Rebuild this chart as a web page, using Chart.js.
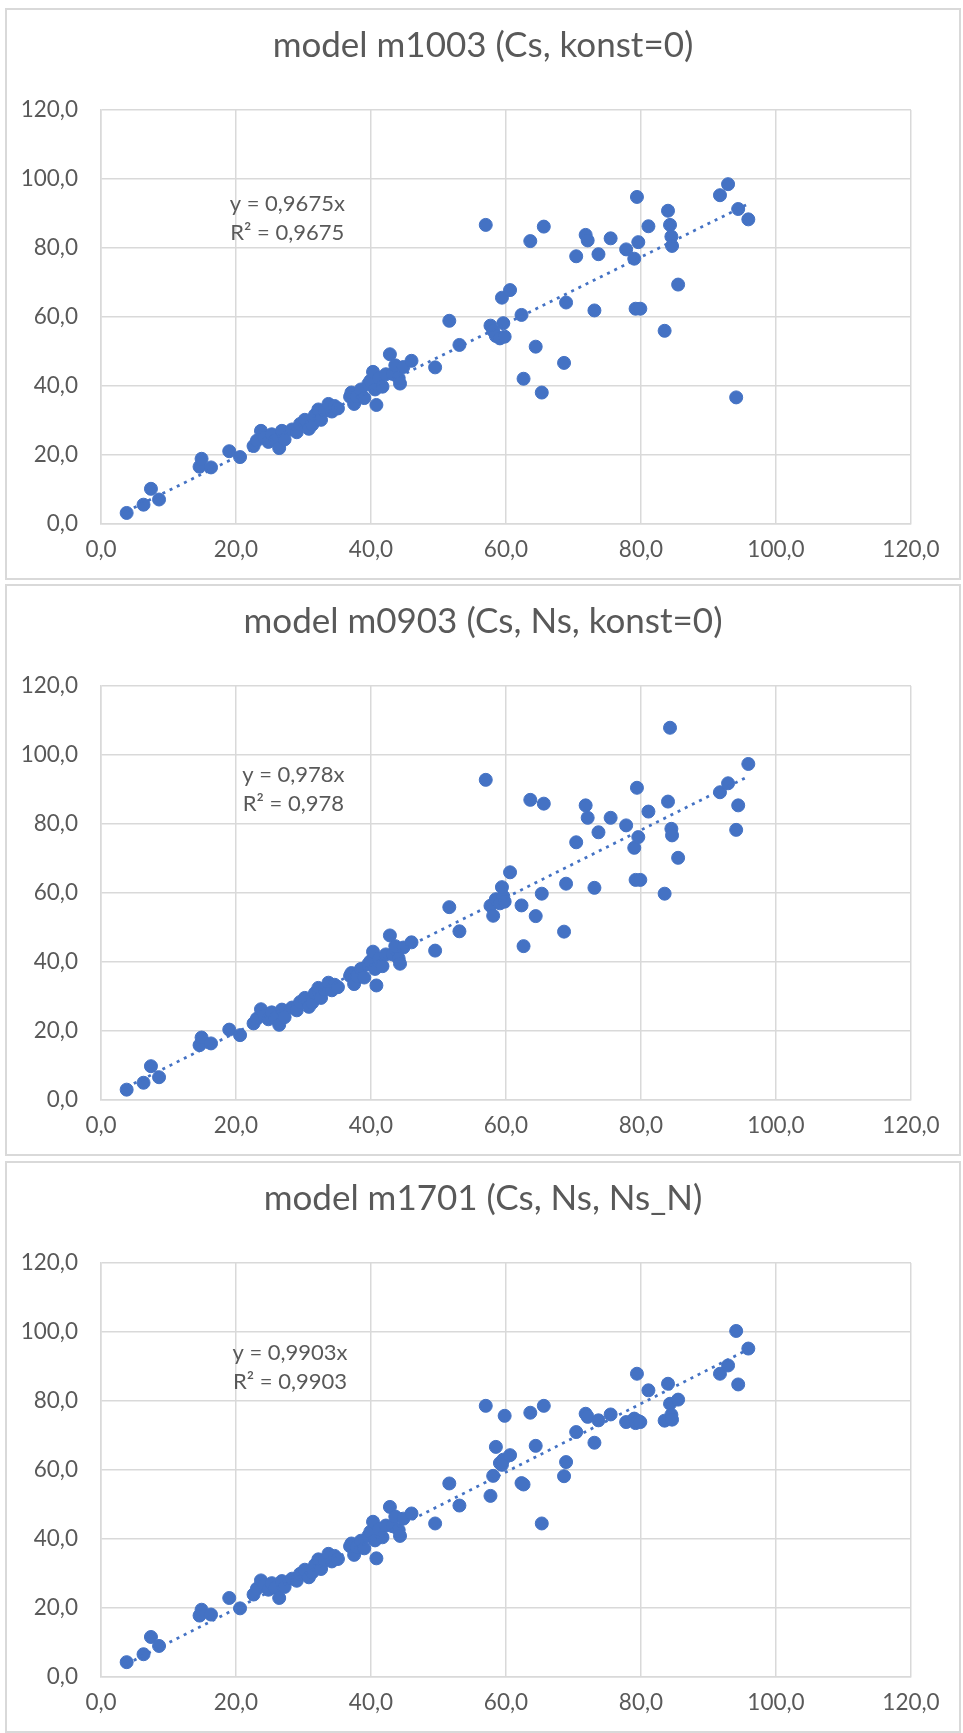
<!DOCTYPE html>
<html>
<head>
<meta charset="utf-8">
<script src="https://cdn.jsdelivr.net/npm/chart.js@4.4.1/dist/chart.umd.min.js"></script>
<style>
  html, body { margin: 0; padding: 0; background: #fff; }
  body { width: 963px; height: 1733px; position: relative; overflow: hidden; }
  .frame { position: absolute; left: 5px; width: 952px; height: 568px; border: 2px solid #d9d9d9; background: #fff; }
  .frame canvas { display: block; }
</style>
</head>
<body>
<div class="frame" style="top:8px"><canvas id="c1" width="952" height="568"></canvas></div>
<div class="frame" style="top:584px"><canvas id="c2" width="952" height="568"></canvas></div>
<div class="frame" style="top:1161px"><canvas id="c3" width="952" height="568"></canvas></div>
<script>
// measured values (x), same for all three models
const obsX = [3.8, 6.3, 7.4, 8.6, 14.6, 14.9, 16.3, 19.0, 20.6,
    22.6, 23.1, 23.7, 24.2, 24.8, 25.3, 25.8, 26.4, 26.8, 27.2,
    28.3, 29.0, 29.5, 30.2, 30.8, 31.3, 31.7, 32.2, 32.6, 33.1, 33.7, 34.2, 34.6, 35.1,
    36.9, 37.1, 37.5, 37.9, 38.5, 39.0, 39.6, 39.9, 40.3, 40.6, 40.8, 41.2, 41.7, 42.2, 42.8, 43.2, 43.6, 44.1, 44.3, 44.8, 46.0,
    49.5, 51.6, 53.1, 57.0, 57.7, 58.1, 58.5, 59.1, 59.6, 59.8, 59.4, 60.6,
    62.3, 62.6, 63.6, 64.4, 65.3, 65.6, 68.6, 68.9, 70.4, 71.8, 72.1, 73.1, 73.7, 75.5,
    77.8, 79.0, 79.2, 79.4, 79.6, 79.9, 81.1, 83.5, 84.0, 84.3, 84.5, 84.6, 85.5,
    91.7, 92.9, 94.1, 94.4, 95.9];

// predicted values per model
const predM1003 = [3.2, 5.6, 10.2, 7.1, 16.6, 18.9, 16.4, 21.1, 19.4,
    22.6, 24.2, 27.0, 25.0, 23.8, 26.0, 24.3, 22.0, 27.0, 24.5,
    27.4, 26.6, 29.0, 30.2, 27.6, 28.8, 31.6, 33.2, 30.2, 32.8, 34.8, 32.6, 34.2, 33.5,
    36.9, 38.1, 34.8, 37.0, 39.0, 36.5, 40.6, 41.5, 44.1, 39.0, 34.5, 42.3, 39.8, 43.4, 49.2, 43.5, 46.0, 42.3, 40.7, 45.5, 47.3,
    45.4, 58.9, 51.9, 86.7, 57.5, 56.0, 54.5, 53.8, 58.2, 54.3, 65.6, 67.8,
    60.6, 42.1, 82.0, 51.4, 38.1, 86.2, 46.7, 64.2, 77.6, 83.8, 82.2, 61.9, 78.2, 82.8,
    79.6, 76.9, 62.4, 94.8, 81.7, 62.4, 86.3, 56.0, 90.8, 86.7, 83.3, 80.6, 69.4,
    95.3, 98.5, 36.7, 91.3, 88.3];

const predM0903 = [3.0, 5.0, 9.8, 6.6, 15.9, 18.1, 16.4, 20.4, 18.8,
    22.2, 23.6, 26.3, 24.5, 23.4, 25.4, 23.8, 21.8, 26.2, 24.0,
    26.8, 26.0, 28.4, 29.6, 27.0, 28.2, 31.0, 32.5, 29.6, 32.0, 34.0, 31.8, 33.4, 32.7,
    36.0, 36.8, 33.6, 36.0, 38.0, 35.5, 39.4, 40.2, 43.0, 38.0, 33.2, 41.0, 38.8, 42.2, 47.7, 42.2, 44.6, 41.0, 39.5, 44.2, 45.7,
    43.3, 55.9, 48.9, 92.8, 56.3, 53.4, 58.2, 57.0, 59.0, 57.5, 61.7, 66.0,
    56.4, 44.6, 87.0, 53.3, 59.8, 85.9, 48.8, 62.7, 74.7, 85.4, 81.8, 61.5, 77.6, 81.8,
    79.6, 73.1, 63.8, 90.5, 76.2, 63.8, 83.6, 59.8, 86.5, 107.9, 78.6, 76.7, 70.2,
    89.2, 91.8, 78.3, 85.4, 97.4];

const predM1701 = [4.3, 6.6, 11.6, 9.0, 17.8, 19.5, 18.1, 22.9, 19.9,
    23.9, 25.6, 28.0, 26.6, 25.3, 27.2, 25.9, 22.9, 27.8, 26.1,
    28.5, 27.9, 29.9, 31.1, 28.9, 30.3, 32.5, 34.1, 31.3, 33.7, 35.7, 33.5, 35.1, 34.2,
    37.9, 38.7, 35.4, 37.7, 39.5, 37.3, 40.9, 42.1, 45.0, 39.6, 34.4, 42.9, 40.5, 43.9, 49.3, 43.7, 46.5, 42.6, 40.9, 45.9, 47.4,
    44.5, 56.1, 49.7, 78.6, 52.5, 58.3, 66.7, 62.0, 63.0, 75.7, 61.5, 64.3,
    56.2, 55.8, 76.6, 67.0, 44.5, 78.6, 58.2, 62.3, 71.0, 76.3, 75.4, 67.9, 74.4, 76.1,
    73.9, 74.9, 73.6, 87.9, 74.2, 73.9, 83.1, 74.3, 85.0, 79.2, 76.0, 74.6, 80.4,
    87.9, 90.3, 100.3, 84.8, 95.2];

const chartTitles = ['model m1003 (Cs, konst=0)', 'model m0903 (Cs, Ns, konst=0)', 'model m1701 (Cs, Ns, Ns_N)'];
const trendSlopes = [0.9675, 0.978, 0.9903];
const trendTexts = [['y = 0,9675x', 'R² = 0,9675'], ['y = 0,978x', 'R² = 0,978'], ['y = 0,9903x', 'R² = 0,9903']];
const labelAnchorX = [27.6, 28.5, 28.0];
const labelAnchorY = [88.6, 90.0, 89.6];
const tickValues = [0, 20, 40, 60, 80, 100, 120];
const tickLabels = ['0,0', '20,0', '40,0', '60,0', '80,0', '100,0', '120,0'];

const BLUE = '#4472C4';
const GREY_TEXT = '#595959';
const GRID = '#d9d9d9';

// chart title, centred on the whole chart box (not the plot area)
const boxTitle = {
    id: 'boxTitle',
    afterDraw(chart, args, opts) {
        const ctx = chart.ctx;
        ctx.save();
        ctx.font = '35px Lato';
        ctx.fillStyle = GREY_TEXT;
        ctx.textAlign = 'center';
        ctx.textBaseline = 'middle';
        ctx.fillText(opts.text, chart.width / 2, 36);
        ctx.restore();
    }
};

// draws the "y = ..x / R² = .." text box
const trendLabel = {
    id: 'trendLabel',
    afterDatasetsDraw(chart, args, opts) {
        const ctx = chart.ctx;
        const px = chart.scales.x.getPixelForValue(opts.x);
        const py = chart.scales.y.getPixelForValue(opts.y);
        ctx.save();
        ctx.font = '22px Lato';
        ctx.fillStyle = GREY_TEXT;
        ctx.textAlign = 'center';
        ctx.textBaseline = 'middle';
        ctx.fillText(opts.lines[0], px, py - 14.5);
        ctx.fillText(opts.lines[1], px, py + 14.5);
        ctx.restore();
    }
};

function axisOptions(isX) {
    return {
        type: 'linear',
        min: 0,
        max: 120,
        ticks: {
            stepSize: 20,
            color: GREY_TEXT,
            font: { family: 'Lato', size: 22.5 },
            padding: isX ? 12 : 23,
            maxRotation: 0,
            autoSkip: false,
            callback: (v) => tickLabels[tickValues.indexOf(v)]
        },
        grid: { color: GRID, lineWidth: 1.5, drawTicks: false },
        border: { color: GRID, width: 1.5 },
        afterFit(scale) {
            if (isX) scale.height = 54;
            else scale.width = 94;
        }
    };
}

function makeChart(canvasId, i, predicted) {
    const points = obsX.map((x, k) => ({ x: x, y: predicted[k] }));
    const xMin = Math.min(...obsX);
    const xMax = Math.max(...obsX);
    const slope = trendSlopes[i];

    return new Chart(document.getElementById(canvasId), { //eslint-disable-line
        type: 'scatter',
        data: {
            datasets: [
                {
                    type: 'line',
                    data: [{ x: xMin, y: slope * xMin }, { x: xMax, y: slope * xMax }],
                    borderColor: BLUE,
                    borderWidth: 2.75,
                    borderDash: [3, 5],
                    pointRadius: 0,
                    fill: false,
                    order: 0
                },
                {
                    data: points,
                    backgroundColor: BLUE,
                    borderColor: BLUE,
                    borderWidth: 1,
                    pointRadius: 6.5,
                    order: 1
                }
            ]
        },
        options: {
            responsive: false,
            devicePixelRatio: 1,
            animation: false,
            layout: { padding: { left: 0, right: 48, top: 100, bottom: 0 } },
            scales: { x: axisOptions(true), y: axisOptions(false) },
            plugins: {
                legend: { display: false },
                tooltip: { enabled: false },
                title: { display: false },
                boxTitle: { text: chartTitles[i] },
                trendLabel: { x: labelAnchorX[i], y: labelAnchorY[i], lines: trendTexts[i] }
            }
        },
        plugins: [trendLabel, boxTitle]
    });
}

makeChart('c1', 0, predM1003);
makeChart('c2', 1, predM0903);
makeChart('c3', 2, predM1701);
</script>
</body>
</html>
